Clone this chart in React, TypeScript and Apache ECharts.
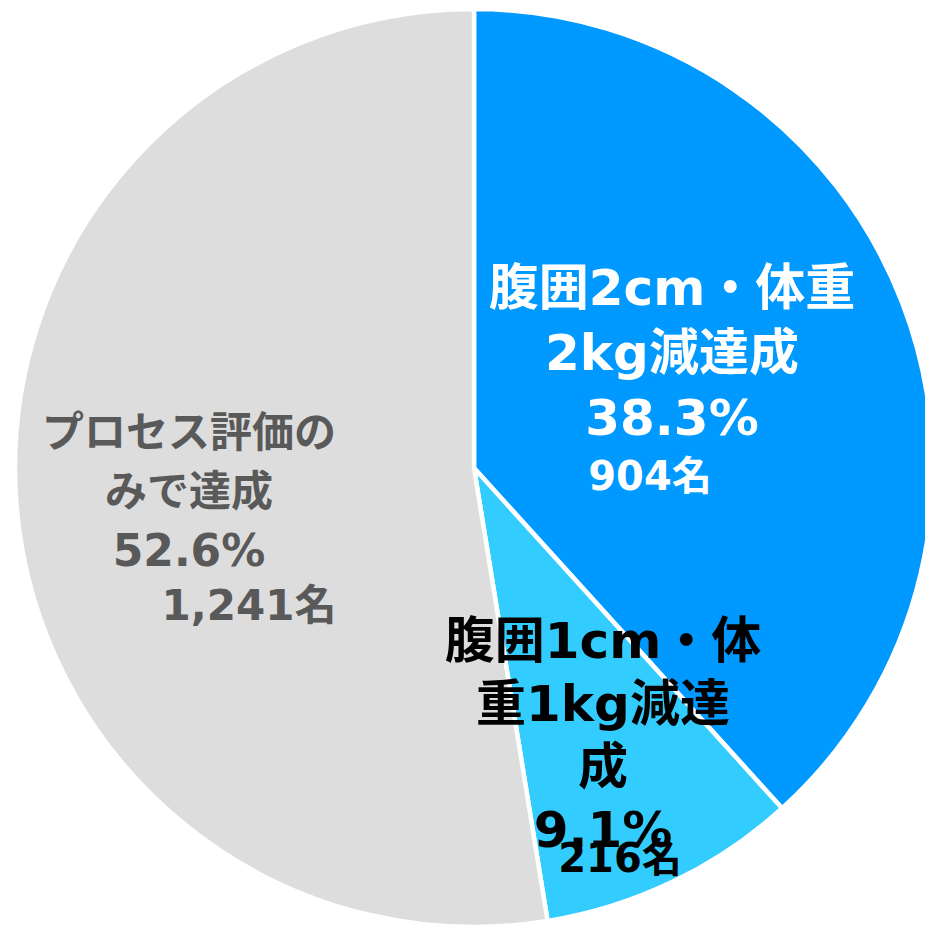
import React, { useEffect, useRef } from "react";
import * as echarts from "echarts";

const categories = ["腹囲2cm・体重\n2kg減達成", "腹囲1cm・体\n重1kg減達\n成", "プロセス評価の\nみで達成"];
const counts = [904, 216, 1241];
const colors = ["#0099FF", "#33CCFF", "#DDDDDD"];
const labelColors = ["#FFFFFF", "#000000", "#595959"];

const FONT = "'DejaVu Sans', 'Noto Sans CJK JP', sans-serif";

// label anchor positions (px in the 925x926 canvas)
const namePos = [
  [672, 353],
  [603, 735],
  [189, 491],
];
const countPos = [
  [650, 476],
  [620, 858],
  [249, 605],
];
const nameSize = [50, 50, 42];
const nameLH = [65, 63, 59];
const pctSize = [50, 50, 44];
const countSize = [40, 40, 42];

export default function App() {
  const ref = useRef<HTMLDivElement>(null);
  useEffect(() => {
    if (!ref.current) return;
    const chart = echarts.init(ref.current, null, { renderer: "svg" });
    const total = counts.reduce((a, b) => a + b, 0);
    const nameData = categories.map((name, i) => {
      const pct = ((counts[i] / total) * 100).toFixed(1) + "%";
      const lines = name.split("\n").map((l) => `{t|${l}}`).join("\n");
      return {
        name,
        value: counts[i],
        itemStyle: { color: colors[i] },
        label: {
          formatter: `${lines}\n{p|${pct}}`,
          rich: {
            t: {
              fontFamily: FONT,
              fontWeight: "bold",
              fontSize: nameSize[i],
              lineHeight: nameLH[i],
              color: labelColors[i],
              align: "center",
            },
            p: {
              fontFamily: FONT,
              fontWeight: "bold",
              fontSize: pctSize[i],
              lineHeight: nameLH[i],
              color: labelColors[i],
              align: "center",
            },
          },
        },
      };
    });
    const countData = categories.map((name, i) => ({
      name,
      value: counts[i],
      itemStyle: { color: "rgba(0,0,0,0)" },
      label: {
        formatter: `${counts[i].toLocaleString("en-US")}名`,
        fontFamily: FONT,
        fontWeight: "bold",
        fontSize: countSize[i],
        color: labelColors[i],
      },
    }));
    const common = {
      type: "pie",
      center: [474, 468],
      radius: [0, 459],
      startAngle: 90,
      clockwise: true,
      avoidLabelOverlap: false,
      labelLine: { show: false },
      emphasis: { disabled: true },
    };
    chart.setOption({
      animation: false,
      series: [
        {
          ...common,
          itemStyle: { borderColor: "#FFFFFF", borderWidth: 4.5 },
          label: { show: true, position: "inside" },
          labelLayout: (p: any) => ({
            x: namePos[p.dataIndex][0],
            y: namePos[p.dataIndex][1],
            align: "center",
            verticalAlign: "middle",
          }),
          data: nameData,
        },
        {
          ...common,
          silent: true,
          itemStyle: { borderWidth: 0 },
          label: { show: true, position: "inside" },
          labelLayout: (p: any) => ({
            x: countPos[p.dataIndex][0],
            y: countPos[p.dataIndex][1],
            align: "center",
            verticalAlign: "middle",
          }),
          data: countData,
        },
      ],
    });
    return () => chart.dispose();
  }, []);
  return (
    <div
      ref={ref}
      style={{ position: "fixed", left: 0, top: 0, width: 925, height: 926, background: "#FFFFFF" }}
    />
  );
}
